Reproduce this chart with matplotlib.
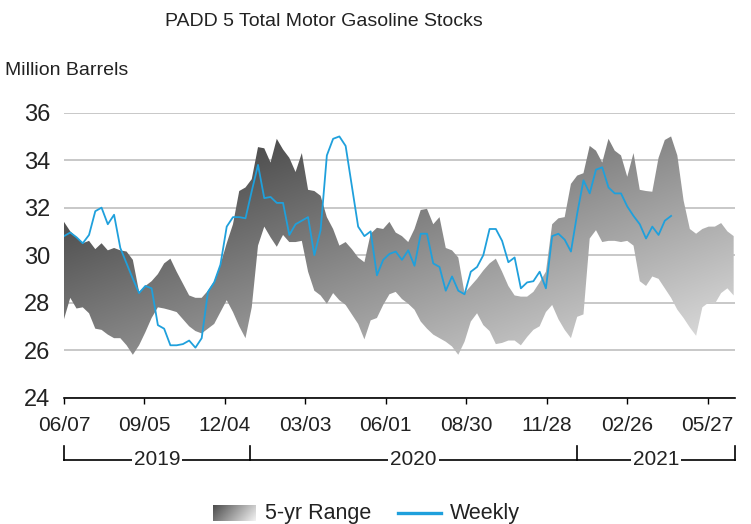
import numpy as np
import pandas as pd
import matplotlib
matplotlib.use("Agg")
import matplotlib.pyplot as plt
import matplotlib.dates as mdates
from matplotlib.patches import Polygon
from matplotlib.lines import Line2D

plt.rcParams['font.family'] = ['Liberation Sans', 'DejaVu Sans']

# weekly dates (Fridays)
dates = pd.date_range('2019-06-07', periods=108, freq='7D')

# 5-yr range envelope
range_high = [31.4, 31.0, 30.75, 30.5, 30.6, 30.25, 30.5, 30.2, 30.3, 30.2,
              30.15, 29.8, 28.45, 28.7, 28.9, 29.2, 29.65, 29.85, 29.3, 28.8,
              28.3, 28.2, 28.2, 28.5, 28.9, 29.6, 30.5, 31.3, 32.7, 32.85,
              33.2, 34.55, 34.5, 33.9, 34.9, 34.45, 34.1, 33.5, 34.3, 32.75,
              32.7, 32.5, 31.6, 31.1, 30.4, 30.55, 30.25, 29.9, 29.7, 30.9,
              31.15, 31.1, 31.4, 30.95, 30.8, 30.55, 31.1, 31.9, 31.95, 31.3,
              31.6, 30.3, 30.2, 29.9, 28.4, 28.7, 29.0, 29.35, 29.65, 29.85,
              29.3, 28.7, 28.3, 28.25, 28.25, 28.45, 28.85, 29.3, 31.3, 31.55,
              31.6, 33.0, 33.35, 33.45, 34.6, 34.4, 33.9, 34.9, 34.4, 34.2,
              33.3, 34.3, 32.75, 32.7, 32.67, 34.1, 34.85, 35.0, 34.2, 32.3,
              31.1, 30.9, 31.1, 31.2, 31.2, 31.35, 31.0, 30.8]
range_low = [27.3, 28.2, 27.75, 27.8, 27.55, 26.9, 26.85, 26.65, 26.5, 26.5,
             26.2, 25.8, 26.2, 26.75, 27.35, 27.8, 27.75, 27.68, 27.6, 27.3,
             27.0, 26.8, 26.7, 26.9, 27.1, 27.6, 28.1, 27.6, 27.0, 26.5,
             27.8, 30.4, 31.2, 30.75, 30.35, 30.85, 30.55, 30.55, 30.6, 29.3,
             28.5, 28.3, 27.95, 28.4, 28.1, 27.9, 27.5, 27.1, 26.45, 27.25,
             27.35, 27.9, 28.35, 28.45, 28.15, 27.95, 27.7, 27.2, 26.9, 26.65,
             26.5, 26.35, 26.15, 25.8, 26.35, 27.2, 27.55, 27.05, 26.8, 26.25,
             26.3, 26.4, 26.4, 26.2, 26.55, 26.85, 27.0, 27.6, 27.9, 27.3,
             26.85, 26.5, 27.4, 27.5, 30.7, 31.05, 30.55, 30.6, 30.6, 30.55,
             30.6, 30.4, 28.9, 28.7, 29.1, 29.0, 28.6, 28.2, 27.7, 27.35,
             26.95, 26.6, 27.8, 28.0, 27.95, 28.4, 28.6, 28.3]

# weekly stocks, million barrels
weekly = [30.8, 30.95, 30.75, 30.5, 30.85, 31.85, 32.0, 31.3, 31.7, 30.3,
          29.65, 29.0, 28.4, 28.7, 28.6, 27.05, 26.9, 26.2, 26.2, 26.25,
          26.4, 26.1, 26.5, 28.45, 28.85, 29.6, 31.2, 31.6, 31.6, 31.55,
          32.7, 33.8, 32.4, 32.45, 32.2, 32.2, 30.85, 31.3, 31.45, 31.6,
          30.0, 31.05, 34.2, 34.9, 35.0, 34.6, 32.9, 31.2, 30.8, 31.0,
          29.15, 29.8, 30.05, 30.15, 29.8, 30.2, 29.55, 30.9, 30.9, 29.65,
          29.5, 28.5, 29.1, 28.5, 28.35, 29.3, 29.5, 30.0, 31.1, 31.1,
          30.6, 29.7, 29.9, 28.6, 28.85, 28.9, 29.3, 28.6, 30.8, 30.9,
          30.65, 30.15, 31.75, 33.15, 32.6, 33.6, 33.7, 32.85, 32.6, 32.6,
          32.05, 31.65, 31.3, 30.7, 31.2, 30.85, 31.45, 31.65]

tick_dates = pd.date_range('2019-06-07', periods=9, freq='90D')
years = ['2019', '2020', '2021']
year_starts = pd.to_datetime(['2020-01-01', '2021-01-01'])

x = mdates.date2num(dates)
x0 = mdates.date2num(pd.Timestamp('2019-06-07'))
x1 = x0 + 750.5

fig = plt.figure(figsize=(7.51, 5.24), dpi=100)
ax = fig.add_axes([64 / 751, 1 - 397.5 / 524, 671 / 751, 284.8 / 524])

# gradient fill for the 5-yr range (dark top-left -> light bottom-right)
gx = np.linspace(0, 1, 600)
gv = np.linspace(24, 36, 300)
GX, GV = np.meshgrid(gx, gv)
g = 47 + 0.145 * 671 * GX + 9 * (35 - GV)
g = np.clip(g, 0, 255) / 255.0
rgb = np.dstack([g, g, g])
img = ax.imshow(rgb, extent=[x0, x1, 24, 36], origin='lower', aspect='auto',
                interpolation='bilinear', zorder=2)
verts = np.column_stack([np.concatenate([x, x[::-1]]),
                         np.concatenate([range_high, range_low[::-1]])])
band = Polygon(verts, closed=True, facecolor='none', edgecolor='none',
               transform=ax.transData)
ax.add_patch(band)
img.set_clip_path(band)

ax.plot(x[:len(weekly)], weekly, color='#1fa0dc', lw=1.3, zorder=3)

ax.set_xlim(x0, x1)
ax.set_ylim(24, 36)
ax.set_yticks(range(24, 37, 2))
ax.yaxis.grid(True, color='#c8c8c8', lw=1.4)
ax.set_axisbelow(True)
for s in ['left', 'top', 'right']:
    ax.spines[s].set_visible(False)
ax.spines['bottom'].set_color('black')
ax.spines['bottom'].set_linewidth(1.2)
ax.tick_params(axis='y', length=0, pad=10, labelsize=17, labelcolor='#222222')
ax.set_xticks(mdates.date2num(tick_dates))
ax.set_xticklabels([d.strftime('%m/%d') for d in tick_dates])
ax.tick_params(axis='x', direction='out', length=4.5, width=1, pad=9,
               labelsize=15, labelcolor='#222222')

# year brackets under the axis
tr = ax.get_xaxis_transform()
bounds = [x0] + list(mdates.date2num(year_starts)) + [x1]
yb, yt = -0.218, -0.169
ax.plot([x0, x1], [yb, yb], color='black', lw=1.2, transform=tr, clip_on=False)
for b in bounds:
    ax.plot([b, b], [yb, yt], color='black', lw=1.2, transform=tr, clip_on=False)
for i, yr in enumerate(years):
    ax.text((bounds[i] + bounds[i + 1]) / 2, yb, yr, transform=tr, ha='center',
            va='center', fontsize=15, color='#222222',
            bbox=dict(facecolor='white', edgecolor='none', pad=1.5))

fig.text(324 / 751, 1 - 22 / 524, 'PADD 5 Total Motor Gasoline Stocks',
         ha='center', va='center', fontsize=14, color='#222222')
fig.text(5 / 751, 1 - 70 / 524, 'Million Barrels', ha='left', va='center',
         fontsize=14, color='#222222')

# legend
ly = 1 - 513 / 524
sw = fig.add_axes([212.7 / 751, 1 - 521 / 524, 42.3 / 751, 16 / 524])
sx, sy = np.meshgrid(np.linspace(0, 1, 60), np.linspace(0, 1, 20))
sg = np.clip(0.3 + 0.5 * sx + 0.15 * sy, 0, 1)
sw.imshow(np.dstack([sg, sg, sg]), aspect='auto', origin='upper')
sw.axis('off')
fig.text(265 / 751, ly, '5-yr Range', ha='left', va='center', fontsize=15.5,
         color='#222222')
fig.add_artist(Line2D([398 / 751, 441 / 751], [ly, ly], color='#1fa0dc', lw=2.4,
                      transform=fig.transFigure))
fig.text(450 / 751, ly, 'Weekly', ha='left', va='center', fontsize=15.5,
         color='#222222')

fig.savefig('out.png', dpi=100)
